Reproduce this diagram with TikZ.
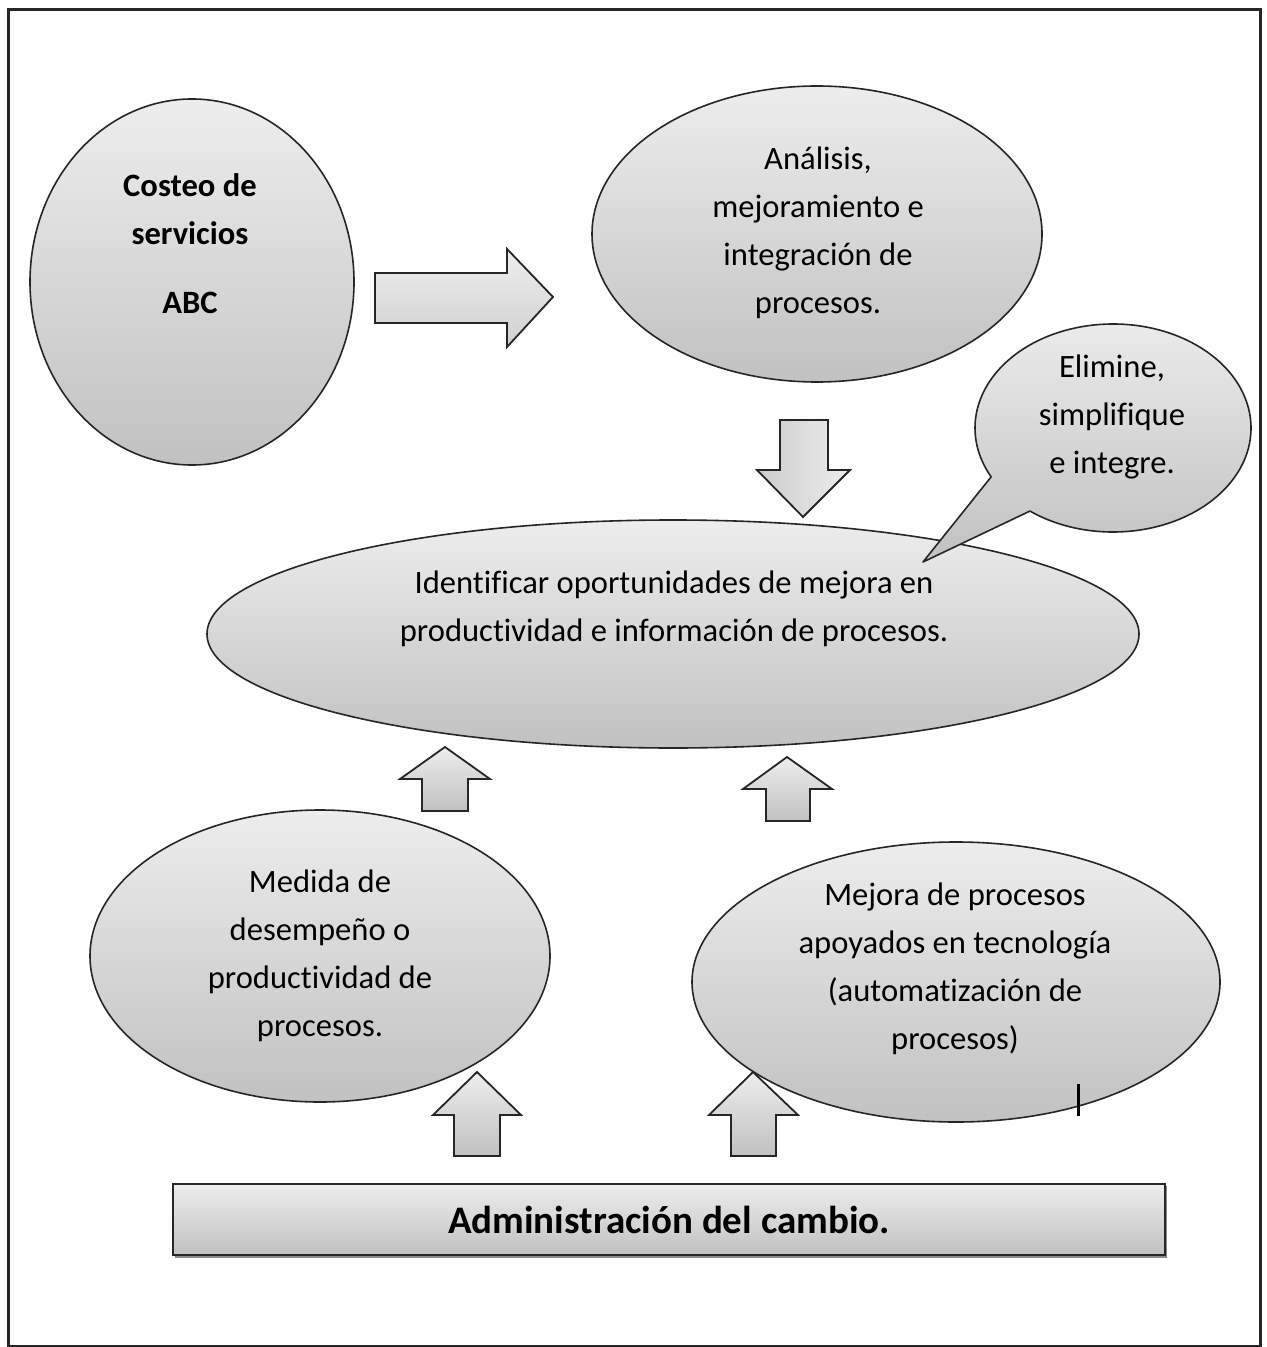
\documentclass[tikz,border=0pt]{standalone}
\usepackage{fontspec}
\setmainfont[Ligatures=NoCommon]{Carlito}
\usetikzlibrary{shapes.geometric}
\definecolor{shtop}{HTML}{EDEDED}
\definecolor{shbot}{HTML}{C1C1C1}
\definecolor{edgegray}{HTML}{262626}
\begin{document}
\begin{tikzpicture}[x=0.5pt,y=-0.5pt,
  bubble/.style={ellipse, draw=edgegray, line width=0.8pt, top color=shtop, bottom color=shbot, inner sep=0pt},
  callout/.style={draw=edgegray, line width=0.8pt, line join=round, top color=shtop, bottom color=shbot},
  blockarrow/.style={draw=edgegray, line width=0.9pt, line join=miter, top color=shtop, bottom color=shbot},
  txt/.style={align=center, font=\fontsize{16.3}{24}\selectfont, inner sep=0pt, text=black},
]
\useasboundingbox (0,0) rectangle (1266,1347);
\fill[white] (0,0) rectangle (1266,1347);

% outer frame
\draw[line width=1.5pt, black!85] (8,10) rectangle (1260,1346);

% top row
\node[bubble, minimum width=162pt, minimum height=183pt] (costeo) at (192,282) {};
\node[txt] (costeoT) at (190,243.5) {\bfseries Costeo de\\\bfseries servicios\\[10.5pt]\bfseries ABC};

\draw[blockarrow, top color=shtop, bottom color=black!18]
  (375,273) -- (507,273) -- (507,249) -- (553,297) -- (507,347) -- (507,323) -- (375,323) -- cycle;

\node[bubble, minimum width=225pt, minimum height=148pt] (analisis) at (817,234) {};
\node[txt] (analisisT) at (818,232.5) {Análisis,\\mejoramiento e\\integración de\\procesos.};

% down arrow into the central ellipse
\draw[blockarrow, left color=black!20, right color=shtop]
  (780,420) -- (828,420) -- (828,470) -- (850,470) -- (803,517) -- (757,470) -- (780,470) -- cycle;

% central ellipse
\node[bubble, minimum width=466pt, minimum height=114pt] (identificar) at (673,634) {};
\node[txt] (identificarT) at (674,608.5) {Identificar oportunidades de mejora en\\productividad e información de procesos.};

% speech bubble
\path[callout] (1113,428) ++(127:138 and 104)
  arc[start angle=127, end angle=-208, x radius=138, y radius=104]
  -- (923,562) -- cycle;
\node[txt] (elimineT) at (1112,417) {Elimine,\\simplifique\\e integre.};

% up arrows into the central ellipse
\draw[blockarrow]
  (422,811) -- (422,779) -- (400,779) -- (445,747) -- (490,779) -- (468,779) -- (468,811) -- cycle;
\draw[blockarrow]
  (766,821) -- (766,789) -- (743,789) -- (787,757) -- (832,789) -- (810,789) -- (810,821) -- cycle;

% lower ellipses
\node[bubble, minimum width=230pt, minimum height=146pt] (medida) at (320,956) {};
\node[txt] (medidaT) at (320,956) {Medida de\\desempeño o\\productividad de\\procesos.};

\node[bubble, minimum width=264pt, minimum height=140pt] (mejora) at (956,982) {};
\node[txt] (mejoraT) at (955,969) {Mejora de procesos\\apoyados en tecnología\\(automatización de\\procesos)};

% text cursor mark
\draw[line width=1.5pt, black] (1078,1084) -- (1078,1116);

% up arrows from the bottom bar
\draw[blockarrow]
  (454,1156) -- (454,1115) -- (433,1115) -- (477,1072) -- (521,1115) -- (500,1115) -- (500,1156) -- cycle;
\draw[blockarrow]
  (731,1156) -- (731,1115) -- (709,1115) -- (753,1072) -- (798,1115) -- (776,1115) -- (776,1156) -- cycle;

% bottom bar with a slight drop shadow
\fill[black!45] (175,1186) rectangle (1167,1257.5);
\node[draw=edgegray, line width=1pt, top color=shtop, bottom color=shbot,
      minimum width=496pt, minimum height=35.5pt, inner sep=0pt,
      font=\bfseries\fontsize{19.5}{24}\selectfont] (cambio) at (669,1219.5) {Administración del cambio.};
\end{tikzpicture}
\end{document}
